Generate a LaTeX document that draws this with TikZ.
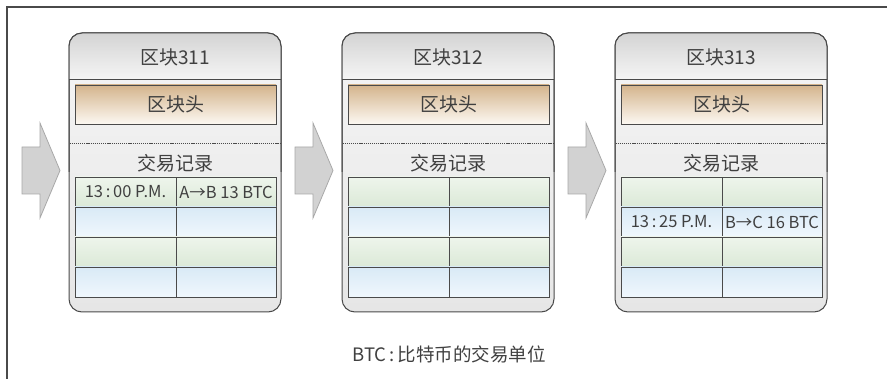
\documentclass[tikz,border=0pt]{standalone}
\usepackage{fontspec}
\setmainfont{Noto Sans CJK SC}
\definecolor{ink}{HTML}{404040}
\definecolor{edge}{HTML}{4A4A4A}
\definecolor{hdtop}{HTML}{D4D4D4}
\definecolor{hdbot}{HTML}{F6F6F6}
\definecolor{bdtop}{HTML}{F5F5F5}
\definecolor{bdbot}{HTML}{E6E6E6}
\definecolor{tantop}{HTML}{D4B48C}
\definecolor{tanbot}{HTML}{FCF8F2}
\definecolor{grtop}{HTML}{EEF5EC}
\definecolor{grbot}{HTML}{DBE9D7}
\definecolor{bltop}{HTML}{D9EAF6}
\definecolor{blbot}{HTML}{F0F7FD}
\definecolor{arfill}{HTML}{D2D2D2}
\definecolor{arline}{HTML}{A8A8A8}
\tikzset{
  frame/.style={draw=edge, line width=1.1pt},
  blockbody/.style={draw=edge, line width=1pt, rounded corners=13pt, top color=bdtop, bottom color=bdbot, minimum width=212pt, minimum height=279pt, inner sep=0pt},
  titletext/.style={text=ink, font=\fontsize{19}{21}\selectfont, inner sep=0pt},
  headbox/.style={draw=edge, line width=0.9pt, top color=tantop, bottom color=tanbot, minimum width=201pt, minimum height=39pt, inner sep=0pt, text=ink, font=\fontsize{19}{21}\selectfont},
  cellg/.style={draw=edge, line width=0.9pt, top color=grtop, bottom color=grbot, minimum height=30pt, inner sep=0pt},
  cellb/.style={cellg, top color=bltop, bottom color=blbot},
  celltext/.style={text=ink, font=\fontsize{16.5}{18}\selectfont, inner sep=0pt},
  bigarrow/.style={fill=arfill, draw=arline, line width=0.8pt},
  dotline/.style={draw=edge, line width=0.7pt, dash pattern=on 1.2pt off 0.9pt},
}
\begin{document}
\begin{tikzpicture}[x=1pt,y=-1pt]
\useasboundingbox (0,0) rectangle (887,379);
\draw[frame] (7,379) -- (7,7) -- (887,7);
\foreach \i/\dx/\ta/\tb/\tr in {1/0/{13\,:\,00 P.M.}/{A→B 13 BTC}/1,2/273/{}/{}/0,3/546/{13\,:\,25 P.M.}/{B→C 16 BTC}/2}{
\begin{scope}[xshift=\dx pt]
  % arrow
  \draw[bigarrow] (22,147) -- (40,147) -- (40,123) -- (60,170.5) -- (40,218) -- (40,194) -- (22,194) -- cycle;
  % block
  \node[blockbody] (b\i) at (175,172.5) {};
  \shade[top color=hdtop, bottom color=hdbot] (69.5,80) [rounded corners=13pt] -- (69.5,33.5) -- (280.5,33.5) [sharp corners] -- (280.5,80) -- cycle;
  \draw[draw=edge, line width=1pt, rounded corners=13pt] (69,172) -- (69,33) -- (281,33) -- (281,172);
  \draw[draw=edge, line width=1pt] (69,80) -- (281,80);
  \node[titletext] (t\i) at (175,57) {区块31\i};
  \node[headbox] (h\i) at (175.5,104.5) {区块头};
  \draw[dotline] (69.5,143) -- (280.5,143);
  \node[titletext] (x\i) at (175,163) {交易记录};
  \foreach \r/\st in {1/cellg,2/cellb,3/cellg,4/cellb}{
    \node[\st, minimum width=101pt] (l\i\r) at (125.5,{162+\r*30}) {};
    \node[\st, minimum width=100pt] (r\i\r) at (226,{162+\r*30}) {};
  }
  \ifnum\tr>0
    \node[celltext] at (l\i\tr) {\ta};
    \node[celltext] at (r\i\tr) {\tb};
  \fi
\end{scope}
}
\node[text=ink, font=\fontsize{18.5}{20}\selectfont, inner sep=0pt] (cap) at (449,354) {BTC\,:\,比特币的交易单位};
\end{tikzpicture}
\end{document}
